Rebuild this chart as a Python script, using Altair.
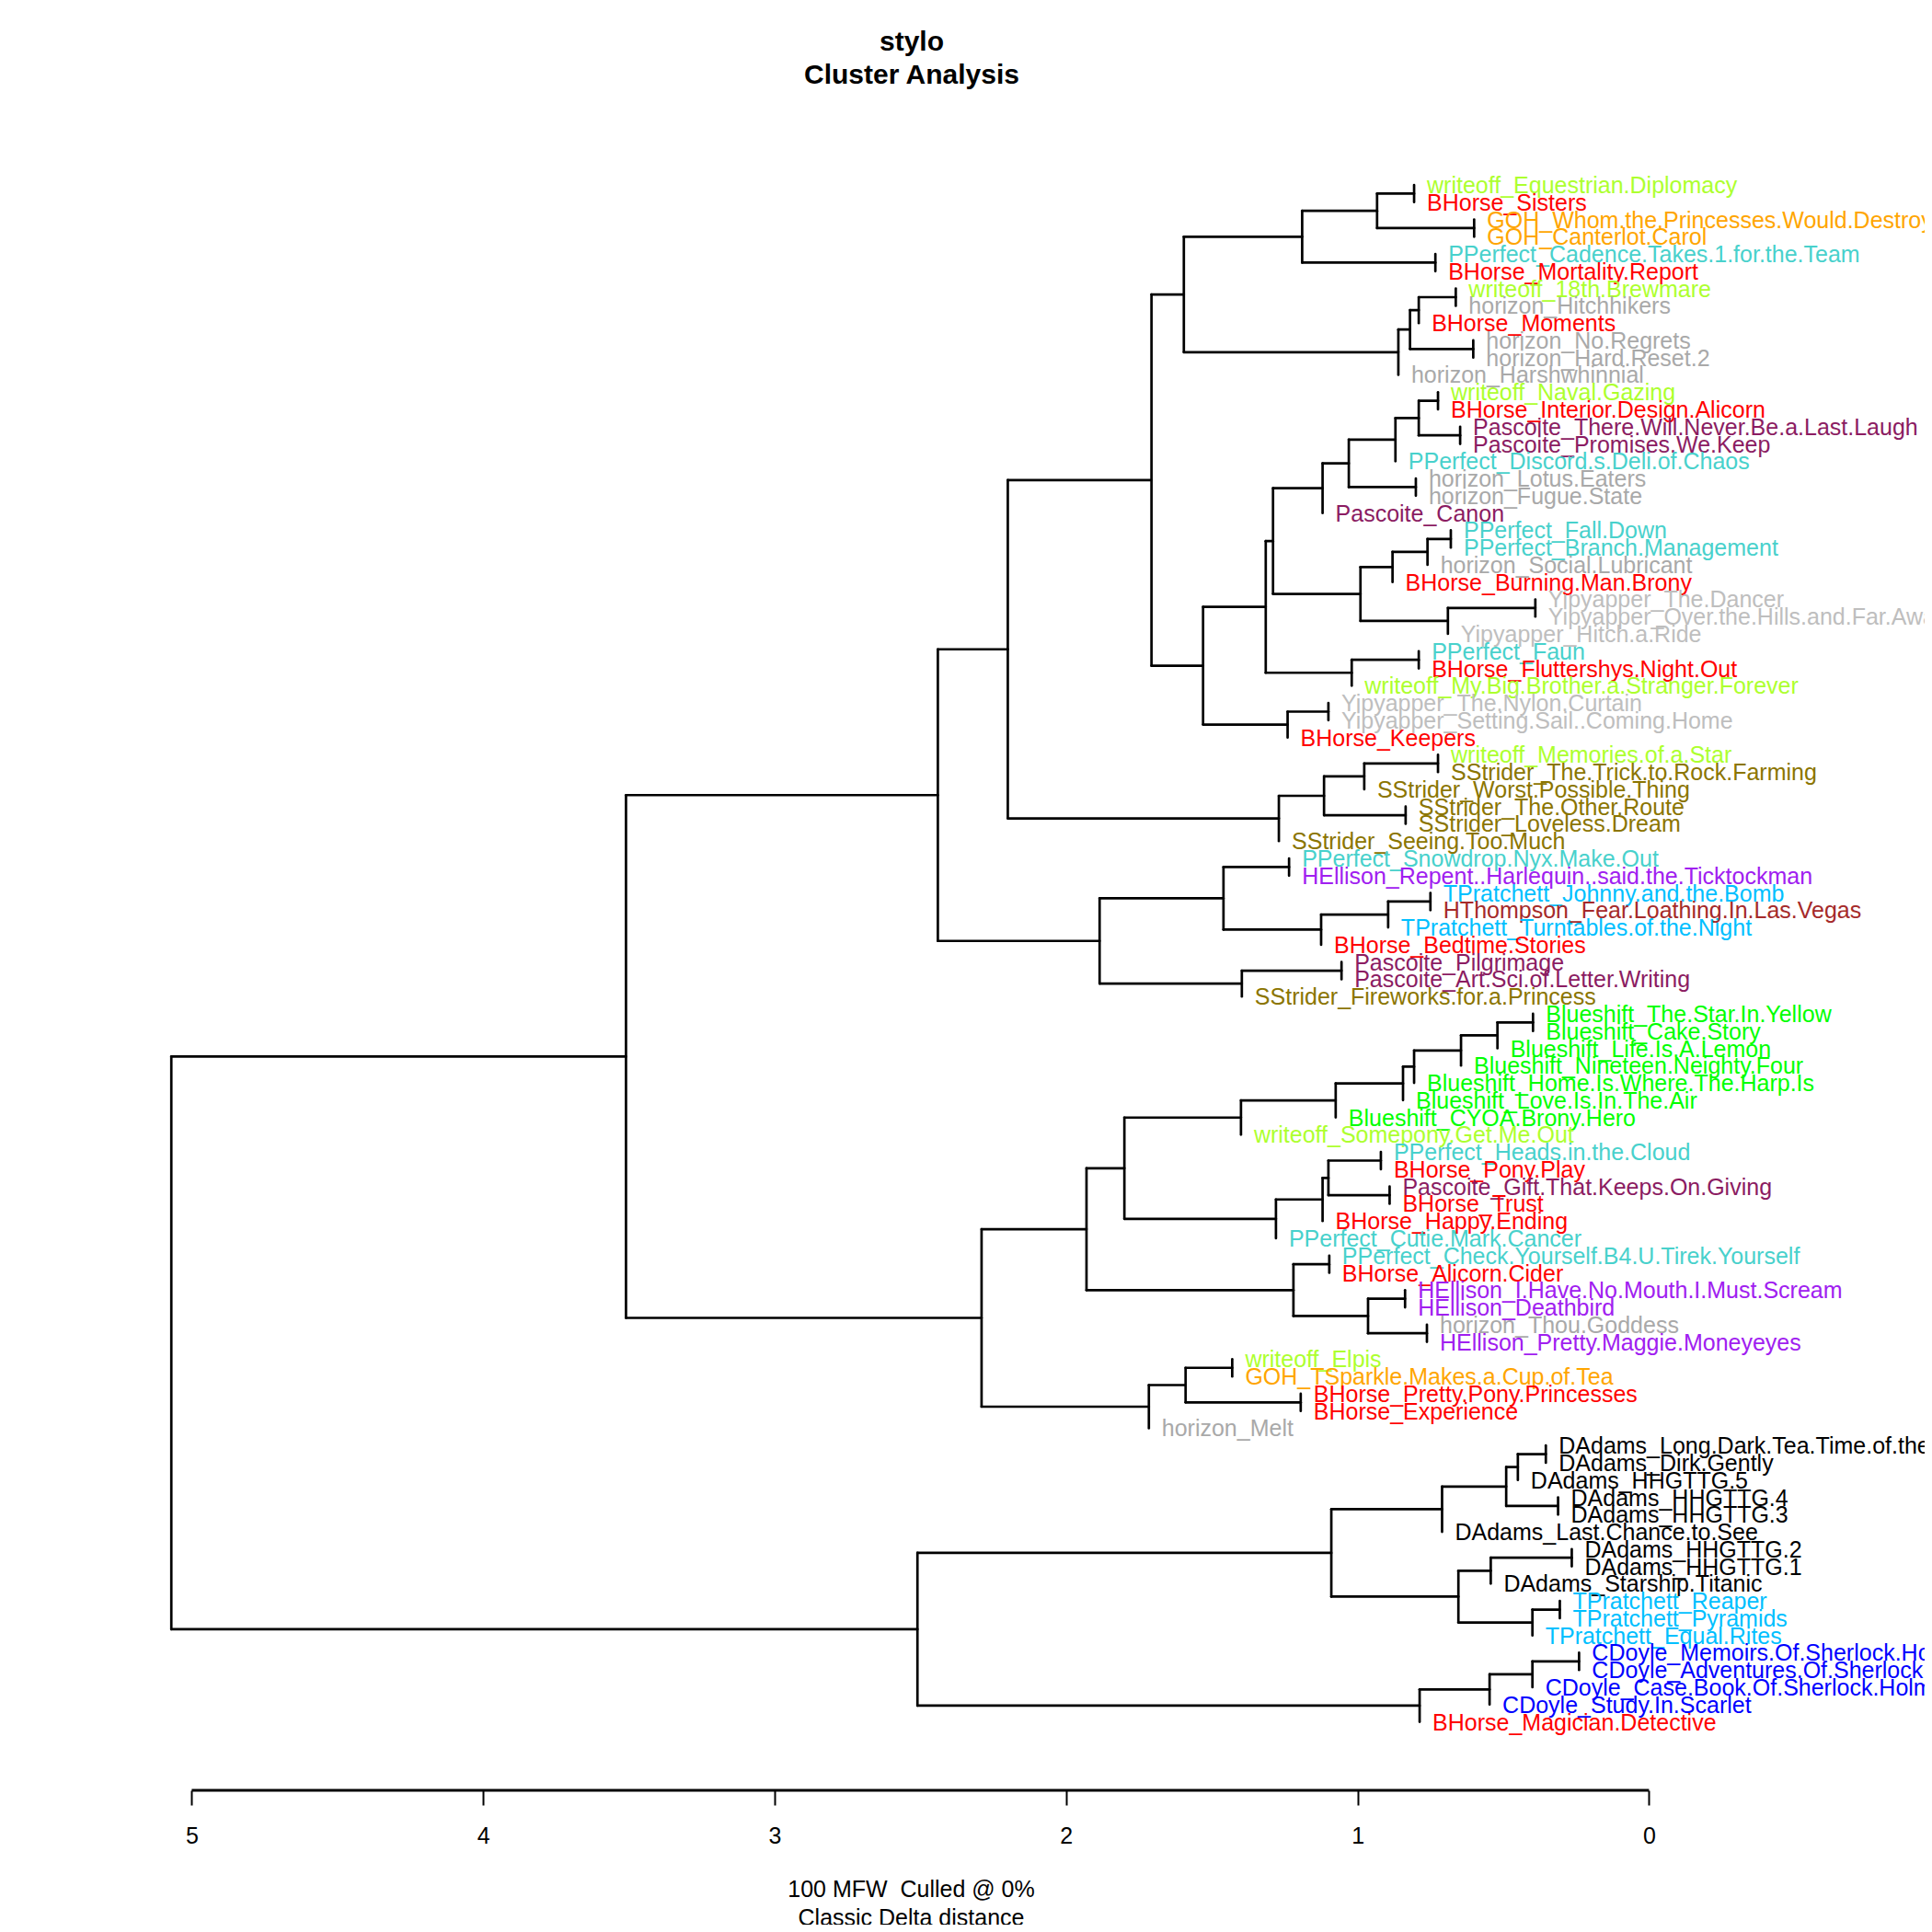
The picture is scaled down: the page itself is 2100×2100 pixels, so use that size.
import altair as alt
import pandas as pd

# ---------------- data ----------------
leaf_labels = [
    "writeoff_Equestrian.Diplomacy", "BHorse_Sisters",
    "GOH_Whom.the.Princesses.Would.Destroy", "GOH_Canterlot.Carol",
    "PPerfect_Cadence.Takes.1.for.the.Team", "BHorse_Mortality.Report",
    "writeoff_18th.Brewmare", "horizon_Hitchhikers", "BHorse_Moments",
    "horizon_No.Regrets", "horizon_Hard.Reset.2", "horizon_Harshwhinnial",
    "writeoff_Naval.Gazing", "BHorse_Interior.Design.Alicorn",
    "Pascoite_There.Will.Never.Be.a.Last.Laugh", "Pascoite_Promises.We.Keep",
    "PPerfect_Discord.s.Deli.of.Chaos", "horizon_Lotus.Eaters", "horizon_Fugue.State",
    "Pascoite_Canon", "PPerfect_Fall.Down", "PPerfect_Branch.Management",
    "horizon_Social.Lubricant", "BHorse_Burning.Man.Brony", "Yipyapper_The.Dancer",
    "Yipyapper_Over.the.Hills.and.Far.Away", "Yipyapper_Hitch.a.Ride", "PPerfect_Faun",
    "BHorse_Fluttershys.Night.Out", "writeoff_My.Big.Brother.a.Stranger.Forever",
    "Yipyapper_The.Nylon.Curtain", "Yipyapper_Setting.Sail..Coming.Home", "BHorse_Keepers",
    "writeoff_Memories.of.a.Star", "SStrider_The.Trick.to.Rock.Farming",
    "SStrider_Worst.Possible.Thing", "SStrider_The.Other.Route", "SStrider_Loveless.Dream",
    "SStrider_Seeing.Too.Much", "PPerfect_Snowdrop.Nyx.Make.Out",
    "HEllison_Repent..Harlequin..said.the.Ticktockman", "TPratchett_Johnny.and.the.Bomb",
    "HThompson_Fear.Loathing.In.Las.Vegas", "TPratchett_Turntables.of.the.Night",
    "BHorse_Bedtime.Stories", "Pascoite_Pilgrimage", "Pascoite_Art.Sci.of.Letter.Writing",
    "SStrider_Fireworks.for.a.Princess", "Blueshift_The.Star.In.Yellow",
    "Blueshift_Cake.Story", "Blueshift_Life.Is.A.Lemon", "Blueshift_Nineteen.Neighty.Four",
    "Blueshift_Home.Is.Where.The.Harp.Is", "Blueshift_Love.Is.In.The.Air",
    "Blueshift_CYOA.Brony.Hero", "writeoff_Somepony.Get.Me.Out",
    "PPerfect_Heads.in.the.Cloud", "BHorse_Pony.Play", "Pascoite_Gift.That.Keeps.On.Giving",
    "BHorse_Trust", "BHorse_Happy.Ending", "PPerfect_Cutie.Mark.Cancer",
    "PPerfect_Check.Yourself.B4.U.Tirek.Yourself", "BHorse_Alicorn.Cider",
    "HEllison_I.Have.No.Mouth.I.Must.Scream", "HEllison_Deathbird", "horizon_Thou.Goddess",
    "HEllison_Pretty.Maggie.Moneyeyes", "writeoff_Elpis", "GOH_TSparkle.Makes.a.Cup.of.Tea",
    "BHorse_Pretty.Pony.Princesses", "BHorse_Experience", "horizon_Melt",
    "DAdams_Long.Dark.Tea.Time.of.the.Soul", "DAdams_Dirk.Gently", "DAdams_HHGTTG.5",
    "DAdams_HHGTTG.4", "DAdams_HHGTTG.3", "DAdams_Last.Chance.to.See", "DAdams_HHGTTG.2",
    "DAdams_HHGTTG.1", "DAdams_Starship.Titanic", "TPratchett_Reaper", "TPratchett_Pyramids",
    "TPratchett_Equal.Rites", "CDoyle_Memoirs.Of.Sherlock.Holmes",
    "CDoyle_Adventures.Of.Sherlock.Holmes", "CDoyle_Case.Book.Of.Sherlock.Holmes",
    "CDoyle_Study.In.Scarlet", "BHorse_Magician.Detective",
]

authors = ["BHorse", "Blueshift", "CDoyle", "DAdams", "GOH", "HEllison", "horizon",
           "HThompson", "Pascoite", "PPerfect", "SStrider", "TPratchett", "writeoff", "Yipyapper"]
author_colors = ["#FF0000", "#00FF00", "#0000FF", "#000000", "#FFA500", "#A020F0", "#A9A9A9",
                 "#A52A2A", "#8B1C62", "#48D1CC", "#8B7500", "#00BFFF", "#ADFF2F", "#BEBEBE"]

# hclust-style merges: negative = leaf (1-based), positive = earlier merge (1-based)
merge_pairs = [
    (-1, -2), (-3, -4), (1, 2), (-5, -6), (3, 4), (-7, -8), (6, -9), (-10, -11), (7, 8),
    (9, -12), (5, 10), (-13, -14), (-15, -16), (12, 13), (14, -17), (-18, -19), (15, 16),
    (17, -20), (-21, -22), (19, -23), (20, -24), (-25, -26), (22, -27), (21, 23), (18, 24),
    (-28, -29), (26, -30), (25, 27), (-31, -32), (29, -33), (28, 30), (11, 31),
    (-34, -35), (33, -36), (-37, -38), (34, 35), (36, -39), (32, 37),
    (-40, -41), (-42, -43), (40, -44), (41, -45), (39, 42), (-46, -47), (44, -48), (43, 45),
    (38, 46),
    (-49, -50), (48, -51), (49, -52), (50, -53), (51, -54), (52, -55), (53, -56),
    (-57, -58), (-59, -60), (55, 56), (57, -61), (58, -62), (54, 59),
    (-63, -64), (-65, -66), (-67, -68), (62, 63), (61, 64), (60, 65),
    (-69, -70), (-71, -72), (67, 68), (69, -73), (66, 70), (47, 71),
    (-74, -75), (73, -76), (-77, -78), (74, 75), (76, -79), (-80, -81), (78, -82),
    (-83, -84), (80, -85), (79, 81), (77, 82), (-86, -87), (84, -88), (85, -89), (86, -90),
    (83, 87), (72, 88),
]
merge_heights = [
    0.806, 0.600, 0.933, 0.733, 1.19, 0.663, 0.79, 0.603, 0.82,
    0.86, 1.596, 0.724, 0.648, 0.79, 0.87, 0.80, 1.03,
    1.12, 0.68, 0.76, 0.88, 0.39, 0.69, 0.99, 1.29,
    0.79, 1.02, 1.315, 1.10, 1.24, 1.53, 1.707,
    0.724, 0.977, 0.835, 1.115, 1.27, 2.20,
    1.235, 0.75, 0.895, 1.125, 1.46, 1.055, 1.397, 1.885,
    2.44,
    0.398, 0.52, 0.645, 0.806, 0.844, 1.075, 1.40,
    0.92, 0.89, 1.10, 1.12, 1.28, 1.80,
    1.097, 0.837, 0.762, 0.964, 1.22, 1.93,
    1.43, 1.195, 1.59, 1.716, 2.29, 3.51,
    0.354, 0.45, 0.312, 0.49, 0.71, 0.265, 0.543,
    0.306, 0.40, 0.654, 1.09, 0.24, 0.40, 0.547, 0.787,
    2.51, 5.07,
]

tick_values = [0, 1, 2, 3, 4, 5]
title_lines = ["stylo", "Cluster Analysis"]
footer_lines = ["100 MFW\u00a0 Culled @ 0%", "Classic Delta distance"]

# ---------------- geometry ----------------
FONT = "Liberation Sans"
W, H = 2084, 1938
X0_PX, UNIT_PX = 1784.4, 316.8      # plot px of distance 0 and px per unit
LEAF0_PX, LEAF_STEP = 193.0, 18.77  # plot px of first leaf and leaf spacing
x_domain = [(X0_PX - W) / UNIT_PX, X0_PX / UNIT_PX]
y_domain = [-LEAF0_PX / LEAF_STEP, (H - LEAF0_PX) / LEAF_STEP]

node_y = {}
leaf_x = {}
seg_rows = []


def child_y(c):
    return (-c - 1) if c < 0 else node_y[c]


for k, ((a, b), h) in enumerate(zip(merge_pairs, merge_heights), start=1):
    ya, yb = child_y(a), child_y(b)
    node_y[k] = (ya + yb) / 2.0
    seg_rows.append({"x": h, "x2": h, "y": ya, "y2": yb})
    for c in (a, b):
        if c < 0:
            leaf_x[-c - 1] = h
        else:
            seg_rows.append({"x": h, "x2": merge_heights[c - 1], "y": node_y[c], "y2": node_y[c]})

segments = pd.DataFrame(seg_rows)

color_of = dict(zip(authors, author_colors))
leaves = pd.DataFrame({
    "label": leaf_labels,
    "h": [leaf_x[i] for i in range(len(leaf_labels))],
    "i": list(range(len(leaf_labels))),
    "color": [color_of[l.split("_")[0]] for l in leaf_labels],
})
axis_line = pd.DataFrame({"x": [max(tick_values)], "x2": [min(tick_values)]})

xs = alt.Scale(domain=x_domain, reverse=True, nice=False, zero=False)
ys = alt.Scale(domain=y_domain, reverse=True, nice=False, zero=False)

x_axis = alt.Axis(
    values=tick_values, format="d", domain=False, grid=False,
    ticks=True, tickSize=16, tickWidth=2, tickColor="black",
    labelFontSize=25, labelFont=FONT, labelColor="black", labelPadding=21,
    labelFlush=False, labelOverlap=False,
    title=footer_lines, titleFontSize=25, titleFont=FONT, titleFontWeight="normal",
    titleColor="black", titleX=982, titleY=95, titleBaseline="top",
    titleAlign="center", titleLineHeight=31,
)

tree = alt.Chart(segments).mark_rule(color="black", strokeWidth=2.7, strokeCap="round").encode(
    x=alt.X("x:Q", scale=xs, axis=x_axis),
    x2="x2:Q",
    y=alt.Y("y:Q", scale=ys, axis=None),
    y2="y2:Q",
)

labels = alt.Chart(leaves).mark_text(
    align="left", baseline="middle", dx=14, dy=1, fontSize=25, font=FONT
).encode(
    x=alt.X("h:Q", scale=xs, axis=x_axis),
    y=alt.Y("i:Q", scale=ys, axis=None),
    text="label:N",
    color=alt.Color("color:N", scale=None),
)

axis_rule = alt.Chart(axis_line).mark_rule(color="black", strokeWidth=2.8).encode(
    x=alt.X("x:Q", scale=xs, axis=x_axis),
    x2="x2:Q",
    y=alt.value(H),
)

title_y = [47, 82.7]
titles = [
    alt.Chart(pd.DataFrame({"t": [t]})).mark_text(
        align="center", baseline="alphabetic", fontSize=30, fontWeight="bold",
        font=FONT, color="black"
    ).encode(x=alt.value(983), y=alt.value(ty), text="t:N")
    for t, ty in zip(title_lines, title_y)
]

chart = alt.layer(tree, labels, axis_rule, *titles).properties(
    width=W, height=H,
    padding={"left": 0, "top": 0, "right": 0, "bottom": 146},
    autosize=alt.AutoSizeParams(type="none"),
    background="white",
).configure_view(strokeWidth=0)

chart.save("out.html", embed_options={"renderer": "svg", "actions": False})
